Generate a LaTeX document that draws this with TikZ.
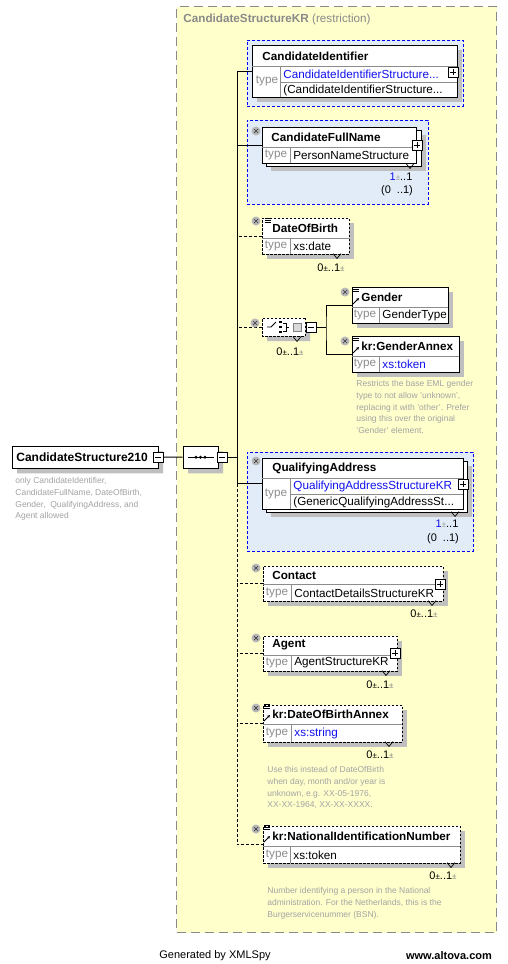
\documentclass[tikz,border=0pt]{standalone}
\usepackage{fontspec}
\setmainfont{Liberation Sans}
\usetikzlibrary{shapes.misc, shadows, arrows.meta, positioning}
\definecolor{bgyellow}{HTML}{FFFFCC}
\definecolor{regionblue}{HTML}{E2ECF8}
\definecolor{linkblue}{HTML}{1010F0}
\definecolor{typegray}{HTML}{8C8C8C}
\definecolor{notegray}{HTML}{A3A3A3}
\definecolor{framegray}{HTML}{8A8A8A}
\tikzstyle{frame} = [
    rectangle,
    anchor=north west,
    draw=framegray,
    line width=1.2pt,
    dash pattern=on 9pt off 5pt,
    fill=bgyellow
]
\tikzstyle{region} = [
    rectangle,
    anchor=north west,
    draw=blue,
    line width=0.8pt,
    dash pattern=on 3pt off 2pt,
    fill=regionblue
]
\tikzstyle{box} = [
    rectangle,
    anchor=north west,
    draw=black,
    fill=white,
    inner sep=0pt
]
\tikzstyle{elem} = [
    box,
    drop shadow={shadow xshift=5pt, shadow yshift=-5pt, fill=black!25, opacity=1}
]
\tikzstyle{optelem} = [elem, dash pattern=on 2.5pt off 1.5pt]
\tikzstyle{divider} = [draw=black!45, line width=0.6pt]
\tikzstyle{ename} = [anchor=west, inner sep=0pt, font=\fontsize{11.7}{13}\selectfont\bfseries]
\tikzstyle{typelbl} = [inner sep=0pt, text=typegray, font=\fontsize{11.7}{13}\selectfont]
\tikzstyle{tval} = [anchor=west, inner sep=0pt, font=\fontsize{11.7}{13}\selectfont]
\tikzstyle{tlink} = [tval, text=linkblue]
\tikzstyle{note} = [anchor=north west, align=left, inner sep=0pt, text=notegray, font=\fontsize{8.5}{11.8}\selectfont]
\tikzstyle{mult} = [inner sep=0pt, font=\fontsize{11}{12}\selectfont]
\tikzstyle{footer} = [inner sep=0pt, font=\fontsize{11}{13}\selectfont]
\tikzstyle{multtick} = [
    rectangle, minimum width=8pt, minimum height=5pt, inner sep=0pt,
    path picture={
      \draw[line width=0.7pt] (path picture bounding box.north west) -- (path picture bounding box.south) -- (path picture bounding box.north east);
    }
]
\tikzstyle{xicon} = [
    circle, fill=black!28, minimum size=9pt, inner sep=0pt,
    path picture={
      \draw[black!75, line width=0.7pt] ([shift={(-2pt,-2pt)}]path picture bounding box.center) -- ([shift={(2pt,2pt)}]path picture bounding box.center);
      \draw[black!75, line width=0.7pt] ([shift={(-2pt,2pt)}]path picture bounding box.center) -- ([shift={(2pt,-2pt)}]path picture bounding box.center);
    }
]
\tikzstyle{docicon} = [
    rectangle, minimum width=6pt, minimum height=6pt, inner sep=0pt,
    path picture={
      \foreach \k in {0,1,2}
        \draw[line width=0.7pt] ([yshift={-(0.6+2*\k)*1pt}]path picture bounding box.north west) -- ([yshift={-(0.6+2*\k)*1pt}]path picture bounding box.north east);
    }
]
\tikzstyle{refarrow} = [
    rectangle, minimum size=6pt, inner sep=0pt,
    path picture={
      \draw[-{Stealth[length=3pt,width=3pt]}, line width=0.9pt] (path picture bounding box.south west) -- (path picture bounding box.north east);
    }
]
\tikzstyle{plusbox} = [
    rectangle, draw, fill=white, minimum size=10pt, inner sep=0pt, line width=0.7pt,
    path picture={
      \draw ([xshift=2pt]path picture bounding box.west) -- ([xshift=-2pt]path picture bounding box.east);
      \draw ([yshift=-2pt]path picture bounding box.north) -- ([yshift=2pt]path picture bounding box.south);
    }
]
\tikzstyle{minusbox} = [
    rectangle, draw, fill=white, minimum size=10pt, inner sep=0pt, line width=0.7pt,
    path picture={
      \draw ([xshift=2pt]path picture bounding box.west) -- ([xshift=-2pt]path picture bounding box.east);
    }
]
\tikzstyle{rootbox} = [
    chamfered rectangle, chamfered rectangle xsep=6pt, chamfered rectangle ysep=6pt,
    anchor=north west, draw=black, fill=white, inner sep=0pt, line width=1pt,
    drop shadow={shadow xshift=5pt, shadow yshift=-5pt, fill=black!25, opacity=1}
]
\tikzstyle{seqbox} = [rootbox, chamfered rectangle xsep=9pt, chamfered rectangle ysep=9pt]
\tikzstyle{choicebox} = [rootbox, chamfered rectangle xsep=7pt, chamfered rectangle ysep=7pt, dash pattern=on 2.5pt off 1.5pt]
\tikzstyle{dropbox} = [
    rectangle, draw=black!50, fill=black!15, minimum size=8pt, inner sep=0pt,
    path picture={
      \fill ([shift={(-2pt,1pt)}]path picture bounding box.center) -- ([shift={(2pt,1pt)}]path picture bounding box.center) -- ([shift={(0pt,-1.5pt)}]path picture bounding box.center) -- cycle;
    }
]
\tikzstyle{conn} = [line width=1pt]
\tikzstyle{optconn} = [conn, dash pattern=on 3pt off 2pt]

\begin{document}
\begin{tikzpicture}[x=1pt, y=-1pt, line width=0.8pt]
\useasboundingbox (0,0) rectangle (507,964);
\fill[white] (0,0) rectangle (507,964);

% restriction frame
\node[frame, minimum width=320pt, minimum height=926pt] (restr) at (176,6) {};
\node[anchor=west, inner sep=0pt, text=framegray, font=\fontsize{11.7}{13}\selectfont] (restrtitle) at (183,19) {\textbf{CandidateStructureKR} (restriction)};

% blue regions
\node[region, minimum width=216pt, minimum height=66pt] (cidreg) at (247,40) {};
\node[region, minimum width=181pt, minimum height=84pt] (cfnreg) at (247,120) {};
\node[region, minimum width=226pt, minimum height=99pt] (qareg) at (247,452) {};

% root and sequence
\node[rootbox, minimum width=146pt, minimum height=22pt] (root) at (12,446) {};
\node[ename, font=\fontsize{12}{14}\selectfont\bfseries] (rootname) at (16,457) {CandidateStructure210};
\node[minusbox] (rootm) at (158,457) {};
\node[note] (rootnote) at (15,477) {only CandidateIdentifier,\\CandidateFullName, DateOfBirth,\\Gender,\ \ QualifyingAddress, and\\Agent allowed};
\node[seqbox, minimum width=35pt, minimum height=22pt] (seq) at (183,446) {};
\draw ([xshift=5pt]seq.west) -- ([xshift=-5pt]seq.east);
\foreach \dx in {-4.5,0,4.5}
  \fill ([xshift=\dx pt]seq.center) circle (1.7pt);
\node[minusbox] (seqm) at (222,457) {};
\coordinate (spine) at (237,457);

% elements
\node[elem, minimum width=205pt, minimum height=52pt] (cid) at (252,45) {};
\node[elem, minimum width=155pt, minimum height=36pt] (cfnback) at (266,130) {};
\node[box, minimum width=154pt, minimum height=36pt] (cfn) at (262,127) {};
\node[optelem, minimum width=87pt, minimum height=36pt] (dob) at (262,218) {};
\node[choicebox, minimum width=43pt, minimum height=18pt, anchor=center] (choice) at (283.5,327) {};
\node[elem, minimum width=96pt, minimum height=36pt] (gen) at (352,287) {};
\node[elem, minimum width=107pt, minimum height=36pt] (genx) at (352,336) {};
\node[elem, minimum width=201pt, minimum height=51pt] (qaback) at (266,461) {};
\node[box, minimum width=201pt, minimum height=51pt] (qa) at (262,458) {};
\node[optelem, minimum width=180pt, minimum height=35pt] (cont) at (263,566) {};
\node[optelem, minimum width=134pt, minimum height=35pt] (agent) at (263,636) {};
\node[optelem, minimum width=139pt, minimum height=37pt] (dobx) at (263,705) {};
\node[optelem, minimum width=197pt, minimum height=37pt] (nin) at (263,826) {};

% connectors
\draw[conn] (rootm.east) -- (seq.west);
\draw[conn] (seqm.east) -- (spine);
\draw[conn] (cid.west) -- (cid.west -| spine) -- (qa.west -| spine) -- (qa.west);
\draw[conn] (cfn.west) -- (cfn.west -| spine);
\draw[optconn] (qa.west -| spine) -- (nin.west -| spine) -- (nin.west);
\draw[optconn] (dob.west) -- (dob.west -| spine);
\draw[optconn] (choice.west) -- (choice.west -| spine);
\draw[optconn] (cont.west) -- (cont.west -| spine);
\draw[optconn] (agent.west) -- (agent.west -| spine);
\draw[optconn] (dobx.west) -- (dobx.west -| spine);
\node[minusbox] (choicem) at (311,327) {};
\coordinate (fork) at (326,327);
\draw[conn] (choicem.east) -- (fork);
\draw[conn] (gen.west) -| (fork) |- (genx.west);

% CandidateIdentifier
\draw[divider] (252,66) -- (457,66) (280,66) -- (280,97) (280,82) -- (457,82);
\node[ename] (cidname) at (262,56) {CandidateIdentifier};
\node[typelbl] (cidtype) at (267,81) {type};
\node[tlink] (cidval) at (283,74) {CandidateIdentifierStructure...};
\node[tval] (cidbase) at (283,90) {(CandidateIdentifierStructure...};
\node[plusbox] (cidplus) at (453,72) {};

% CandidateFullName
\draw[divider] (262,147) -- (416,147) (290,147) -- (290,163);
\node[xicon] (cfnx) at (256,131) {};
\node[ename] (cfnname) at (271,137) {CandidateFullName};
\node[typelbl] (cfntype) at (276,155) {type};
\node[tval] (cfnval) at (293,155) {PersonNameStructure};
\node[plusbox] (cfnplus) at (417,145) {};
\node[multtick] (cfntick) at (410,166) {};
\node[mult] (cfnmult) at (401,177) {{\color{linkblue}1}{\fontsize{8}{8}\selectfont\color{black!40}±}..1};
\node[mult] (cfnmin) at (397,191) {(0\ \ ..1)};

% DateOfBirth
\draw[divider] (262,238) -- (349,238) (290,238) -- (290,254);
\node[xicon] (dobxi) at (256,221) {};
\node[docicon] (dobdoc) at (268,221) {};
\node[ename] (dobname) at (272,228) {DateOfBirth};
\node[typelbl] (dobtype) at (276,246) {type};
\node[tval] (dobval) at (293,246) {xs:date};
\node[multtick] (dobtick) at (337,256) {};
\node[mult] (dobmult) at (331,268) {0{\fontsize{8}{8}\selectfont±}..1{\fontsize{8}{8}\selectfont\color{black!50}±}};

% choice of Gender / kr:GenderAnnex
\node[xicon] (choicexi) at (255,323) {};
\draw (267,327) -- (271,327) -- (276,322);
\foreach \dy in {-5,0,5}
  \fill (279,327+\dy-1.3) rectangle (282,327+\dy+1.3);
\draw (283,323) -- (286,323) -- (286,331) -- (283,331) (286,327) -- (289,327);
\node[dropbox] (choicedrop) at (297,327) {};
\node[multtick] (choicetick) at (297,339) {};
\node[mult] (choicemult) at (290,352) {0{\fontsize{8}{8}\selectfont±}..1{\fontsize{8}{8}\selectfont\color{black!50}±}};

\draw[divider] (352,307) -- (448,307) (379,307) -- (379,323);
\node[xicon] (genxi) at (345,292) {};
\node[docicon] (gendoc) at (356,290) {};
\node[refarrow] (genref) at (356,301) {};
\node[ename] (genname) at (361,297) {Gender};
\node[typelbl] (gentype) at (365,315) {type};
\node[tval] (genval) at (382,315) {GenderType};

\draw[divider] (352,356) -- (459,356) (379,356) -- (379,372);
\node[xicon] (genxxi) at (345,341) {};
\node[docicon] (genxdoc) at (356,339) {};
\node[refarrow] (genxref) at (356,350) {};
\node[ename] (genxname) at (361,346) {kr:GenderAnnex};
\node[typelbl] (genxtype) at (365,364) {type};
\node[tlink] (genxval) at (382,364) {xs:token};
\node[note] (genxnote) at (356,380) {Restricts the base EML gender\\type to not allow 'unknown',\\replacing it with 'other'. Prefer\\using this over the original\\'Gender' element.};

% QualifyingAddress
\draw[divider] (262,478) -- (463,478) (290,478) -- (290,509) (290,494) -- (463,494);
\node[xicon] (qaxi) at (256,461) {};
\node[ename] (qaname) at (272,468) {QualifyingAddress};
\node[typelbl] (qatype) at (276,494) {type};
\node[tlink] (qaval) at (293,486) {QualifyingAddressStructureKR};
\node[tval] (qabase) at (293,502) {(GenericQualifyingAddressSt...};
\node[plusbox] (qaplus) at (463,484) {};
\node[multtick] (qatick) at (455,514) {};
\node[mult] (qamult) at (447,524) {{\color{linkblue}1}{\fontsize{8}{8}\selectfont\color{black!40}±}..1};
\node[mult] (qamin) at (443,539) {(0\ \ ..1)};

% Contact
\draw[divider] (263,584) -- (443,584) (291,584) -- (291,601);
\node[xicon] (contxi) at (256,568) {};
\node[ename] (contname) at (272,575) {Contact};
\node[typelbl] (conttype) at (277,593) {type};
\node[tval] (contval) at (294,593) {ContactDetailsStructureKR};
\node[plusbox] (contplus) at (440,584) {};
\node[multtick] (conttick) at (432,603) {};
\node[mult] (contmult) at (424,614) {0{\fontsize{8}{8}\selectfont±}..1{\fontsize{8}{8}\selectfont\color{black!50}±}};

% Agent
\draw[divider] (263,655) -- (397,655) (291,655) -- (291,671);
\node[xicon] (agentxi) at (256,638) {};
\node[ename] (agentname) at (272,645) {Agent};
\node[typelbl] (agenttype) at (277,663) {type};
\node[tval] (agentval) at (294,663) {AgentStructureKR};
\node[plusbox] (agentplus) at (395,653) {};
\node[multtick] (agenttick) at (386,673) {};
\node[mult] (agentmult) at (380,685) {0{\fontsize{8}{8}\selectfont±}..1{\fontsize{8}{8}\selectfont\color{black!50}±}};

% kr:DateOfBirthAnnex
\draw[divider] (263,724) -- (402,724) (291,724) -- (291,742);
\node[xicon] (dobxxi) at (256,708) {};
\node[docicon] (dobxdoc) at (267,707) {};
\node[refarrow] (dobxref) at (267,718) {};
\node[ename] (dobxname) at (272,714) {kr:DateOfBirthAnnex};
\node[typelbl] (dobxtype) at (277,733) {type};
\node[tlink] (dobxval) at (294,733) {xs:string};
\node[multtick] (dobxtick) at (389,744) {};
\node[mult] (dobxmult) at (380,755) {0{\fontsize{8}{8}\selectfont±}..1{\fontsize{8}{8}\selectfont\color{black!50}±}};
\node[note] (dobxnote) at (267,766) {Use this instead of DateOfBirth\\when day, month and/or year is\\unknown, e.g. XX-05-1976,\\XX-XX-1964, XX-XX-XXXX.};

% kr:NationalIdentificationNumber
\draw[divider] (263,846) -- (460,846) (290,846) -- (290,863);
\node[xicon] (ninxi) at (256,829) {};
\node[docicon] (nindoc) at (267,828) {};
\node[refarrow] (ninref) at (267,839) {};
\node[ename] (ninname) at (272,836) {kr:NationalIdentificationNumber};
\node[typelbl] (nintype) at (277,855) {type};
\node[tval] (ninval) at (293,855) {xs:token};
\node[multtick] (nintick) at (451,865) {};
\node[mult] (ninmult) at (443,876) {0{\fontsize{8}{8}\selectfont±}..1{\fontsize{8}{8}\selectfont\color{black!50}±}};
\node[note] (ninnote) at (267,887) {Number identifying a person in the National\\administration. For the Netherlands, this is the\\Burgerservicenummer (BSN).};

% footer
\node[footer] (genby) at (215,956) {Generated by XMLSpy};
\node[footer, font=\fontsize{11}{13}\selectfont\bfseries] (altova) at (449,956) {www.altova.com};

\end{tikzpicture}
\end{document}
